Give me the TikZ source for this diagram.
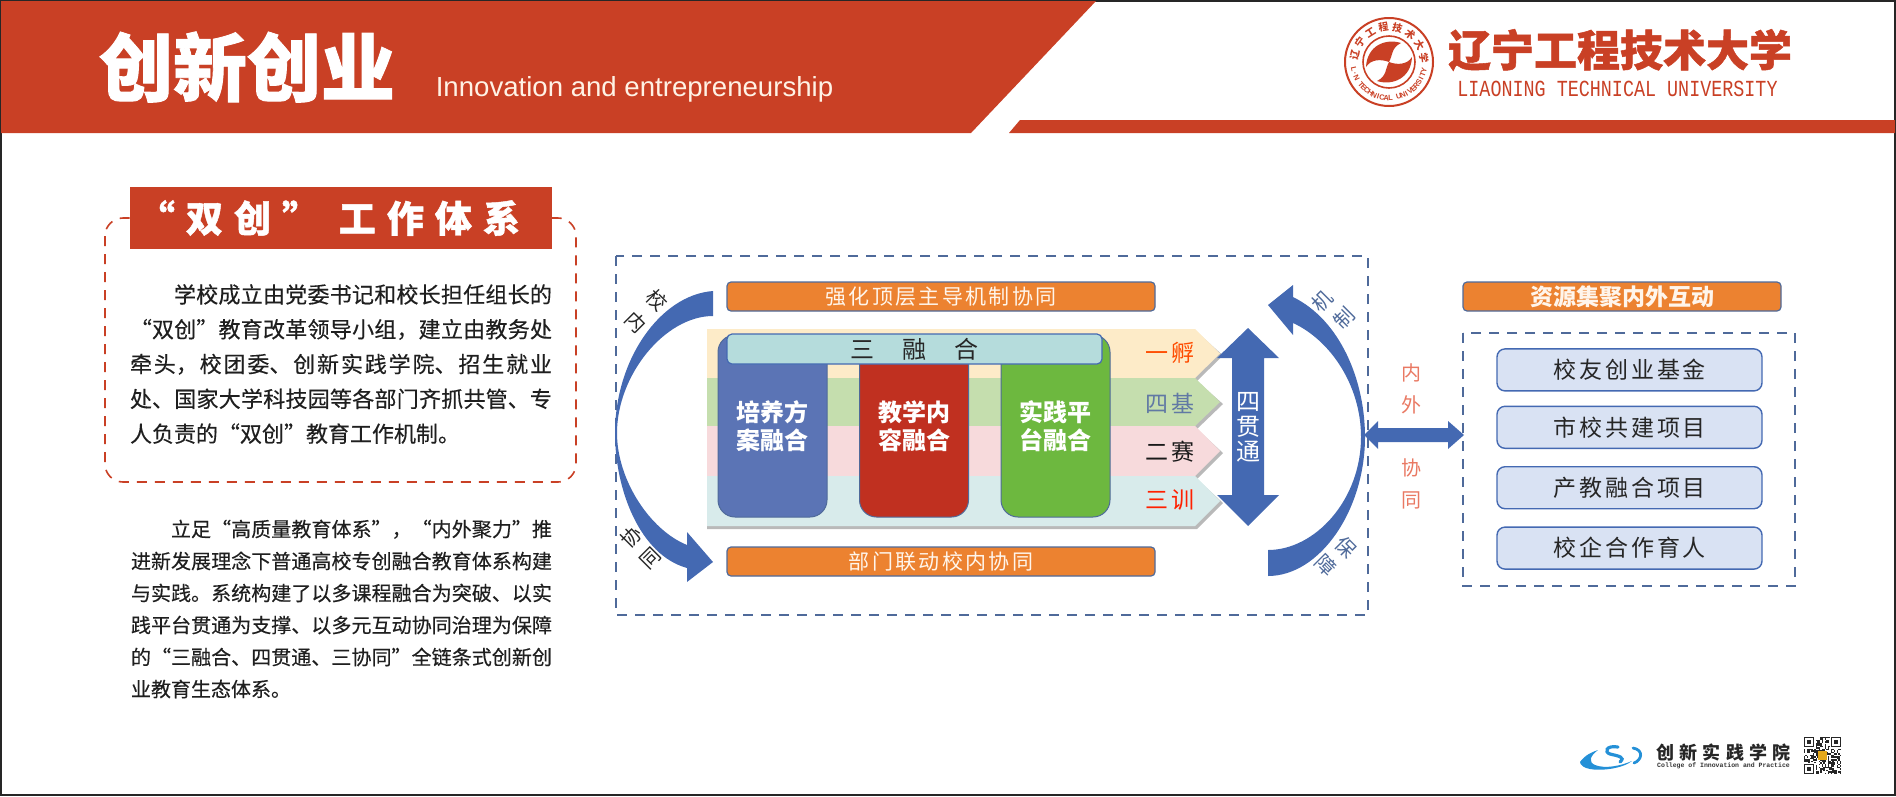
\documentclass[tikz,border=0pt]{standalone}
\usepackage{fontspec}
\setmainfont{Noto Sans CJK SC}
\newfontfamily\bodyfont[FakeBold=0.35]{Noto Sans CJK SC}
\newfontfamily\heavyfont[BoldFeatures={FakeBold=1.2}]{Noto Sans CJK SC}
\newfontfamily\latinfont{Liberation Sans}
\newfontfamily\monofont{Liberation Mono}
\usepackage{tikz}
\usetikzlibrary{matrix,positioning}
\XeTeXlinebreaklocale "zh"
\XeTeXlinebreakskip=0pt plus 3pt
\newcommand{\fsize}[1]{\fontsize{#1}{#1}\selectfont}
\newcommand{\spaced}[1]{\addfontfeature{LetterSpace=#1}}
\definecolor{hdred}{HTML}{C94025}
\definecolor{barorange}{HTML}{EC8230}
\definecolor{slate}{HTML}{4F6A9A}
\definecolor{arcblue}{HTML}{4469B2}
\definecolor{colblue}{HTML}{5B74B5}
\definecolor{colred}{HTML}{C03020}
\definecolor{colgreen}{HTML}{6DB83F}
\definecolor{barteal}{HTML}{B5DCDC}
\definecolor{respale}{HTML}{D9E2F3}

\begin{document}
\begin{tikzpicture}[x=1pt,y=-1pt,
    orangebar/.style={draw=slate,line width=1.2pt,fill=barorange,rounded corners=4pt,
      minimum width=428pt,minimum height=29pt,inner sep=0pt,text=white!92!orange},
    slatedash/.style={draw=slate,line width=1.6pt,dash pattern=on 10pt off 8pt},
    fusecol/.style={line width=1pt,rounded corners=17pt,minimum width=109pt,minimum height=182pt,
      inner sep=0pt,align=center,text=white,font=\fsize{24}\bfseries},
    bandtag/.style={font=\fsize{23}\spaced{17},inner sep=0pt},
    arcchar/.style={font=\fsize{20},inner sep=0pt},
    sidechar/.style={font=\fsize{20},text=red!50!brown!70!white,inner sep=0pt},
    resbox/.style={draw=arcblue,line width=1.4pt,fill=respale,rounded corners=8pt,
      minimum width=265pt,minimum height=42pt,inner sep=0pt,text=black!85,font=\fsize{23}\spaced{13}}
  ]
  \useasboundingbox (0,0) rectangle (1896,796);
  \draw[black!85,line width=2pt] (1,1) rectangle (1895,795);

  %header
  \fill[hdred] (1,1) -- (1096,1) -- (971,133) -- (1,133) -- cycle;
  \fill[hdred] (1020,120) -- (1895,120) -- (1895,133) -- (1009,133) -- cycle;
  \node (title) at (247,67) [text=white,inner sep=0pt,font=\heavyfont\bfseries\fsize{74}] {创新创业};
  \node (subtitle) at (634.5,89) [text=white!90!orange,inner sep=0pt,font=\latinfont\fsize{27.6}] {Innovation and entrepreneurship};

  %school badge
  \begin{scope}[shift={(1389,62)}]
    \draw[hdred,line width=2pt] (0,0) circle (44);
    \draw[hdred,line width=1.6pt] (0,0) circle (26);
    \foreach \r in {0,180}
      \fill[hdred,rotate=\r] (12,-19) .. controls (-4,-24) and (-22,-16) .. (-23,5)
        .. controls (-18,-3) and (-8,-3) .. (0,0) .. controls (4,-7) and (2,-14) .. (12,-19) -- cycle;
    \foreach \ch [count=\i from 0] in {辽,宁,工,程,技,术,大,学}
      \node[text=hdred,inner sep=0pt,font=\fsize{10}\bfseries,rotate={78-\i*23}] (bdg\i) at ({168-\i*23}:35pt) {\ch};
    \foreach \ch [count=\i from 0] in {L,.,N,{},T,E,C,H,N,I,C,A,L,{},U,N,I,V,E,R,S,I,T,Y}
      \node[text=hdred,inner sep=0pt,font=\latinfont\fsize{7.5}\bfseries,rotate={90+192+\i*6.7}] (bdt\i) at ({192+\i*6.7}:36pt) {\ch};
  \end{scope}
  \node (uniname) at (1620,50) [text=hdred,inner sep=0pt,font=\heavyfont\bfseries\fsize{43}] {辽宁工程技术大学};
  \node (unien) at (1617.5,88.5) [text=hdred,inner sep=0pt,yscale=1.25,font=\monofont\fsize{18.4}] {LIAONING TECHNICAL UNIVERSITY};

  %left column
  \draw[hdred,line width=1.6pt,dash pattern=on 10pt off 8pt,rounded corners=18pt] (105,218) rectangle (576,482);
  \node (headbox) at (341,218) [fill=hdred,minimum width=422pt,minimum height=62pt,inner sep=0pt,
    text=white,font=\heavyfont\bfseries\fsize{37}\spaced{30}] {“双创” 工作体系\hspace{24pt}\mbox{}};
  \node (para1) at (341,364) [text width=422pt,inner sep=0pt,align=justify,text=black!88,
    font=\bodyfont\fontsize{22}{34.8}\selectfont] {\hspace*{44pt}学校成立由党委书记和校长担任组长的\linebreak
    “双创”教育改革领导小组，建立由教务处\linebreak
    牵头，校团委、创新实践学院、招生就业\linebreak
    处、国家大学科技园等各部门齐抓共管、专\linebreak
    人负责的“双创”教育工作机制。\par};
  \node (para2) at (341.5,609) [text width=421pt,inner sep=0pt,align=justify,text=black!88,
    font=\bodyfont\fontsize{20}{32}\selectfont] {\hspace*{40pt}立足“高质量教育体系”，“内外聚力”推\linebreak
    进新发展理念下普通高校专创融合教育体系构建\linebreak
    与实践。系统构建了以多课程融合为突破、以实\linebreak
    践平台贯通为支撑、以多元互动协同治理为保障\linebreak
    的“三融合、四贯通、三协同”全链条式创新创\linebreak
    业教育生态体系。\par};

  %middle frame
  \draw[slatedash] (616,256) rectangle (1368,615);
  \node[orangebar,font=\fsize{21}\spaced{11}] (topbar) at (941,296.5) {强化顶层主导机制协同};
  \node[orangebar,font=\fsize{21}\spaced{11}] (botbar) at (941,561.5) {部门联动校内协同};

  %the four bands
  \foreach \ya/\yb/\colr in {329/378/FDEBC8,378/426/C5DEAE,426/476/F7DADC,476/526/D8EBEB}{
    \fill[gray,opacity=.55] (707,\ya+3) -- (1197,\ya+3) -- (1223,{(\ya+\yb)/2+2}) -- (1197,\yb+3) -- (707,\yb+3) -- cycle;
  }
  \foreach \ya/\yb/\colr in {329/378/FDEBC8,378/426/C5DEAE,426/476/F7DADC,476/526/D8EBEB}{
    \definecolor{bandcol}{HTML}{\colr}
    \fill[bandcol] (707,\ya) -- (1195,\ya) -- (1220,{(\ya+\yb)/2}) -- (1195,\yb) -- (707,\yb) -- cycle;
  }
  \node[bandtag,text=orange!60!red] (tag1) at (1170,353) {一孵};
  \node[bandtag,text=slate!90!white] (tag2) at (1170,403) {四基};
  \node[bandtag,text=black!90] (tag3) at (1170,452) {二赛};
  \node[bandtag,text=red!75!orange] (tag4) at (1170,500) {三训};

  %columns and the bar over them
  \node[fusecol,draw=slate,fill=colblue] (col1) at (772.5,426) {培养方\\[4pt]案融合};
  \node[fusecol,draw=slate,fill=colred] (col2) at (914,426) {教学内\\[4pt]容融合};
  \node[fusecol,draw=slate,fill=colgreen] (col3) at (1055.5,426) {实践平\\[4pt]台融合};
  \node (fusebar) at (914.5,349) [draw=arcblue,line width=1.2pt,fill=barteal,rounded corners=5pt,
    minimum width=375pt,minimum height=30pt,inner sep=0pt,text=black!85,font=\fsize{24}\spaced{117}] {三融合};

  %up and down arrow
  \fill[arcblue] (1248,328) -- (1279,358) -- (1264,358) -- (1264,495) -- (1279,495) -- (1248,526)
    -- (1217,495) -- (1232,495) -- (1232,358) -- (1217,358) -- cycle;
  \node (fourtext) at (1248,427) [align=center,inner sep=0pt,text=white,font=\fontsize{24}{25}\selectfont] {四\\贯\\通};

  %the two crescents
  \fill[arcblue] (713,291) .. controls (660,295) and (615,360) .. (615,433)
    .. controls (615,490) and (640,555) .. (687,568) -- (687,582) -- (713,562) -- (687,532) -- (687,545)
    .. controls (650,530) and (617,480) .. (617,433) .. controls (617,375) and (665,316) .. (713,316) -- cycle;
  \fill[arcblue] (1268,576) .. controls (1320,576) and (1365,510) .. (1365,437)
    .. controls (1365,380) and (1340,320) .. (1293,297) -- (1293,285) -- (1268,305) -- (1293,335) -- (1293,323)
    .. controls (1330,340) and (1361,385) .. (1361,437) .. controls (1361,500) and (1315,550) .. (1268,550) -- cycle;
  \node[arcchar,rotate=-45,text=black!85] (arcxiao) at (657,300) {校};
  \node[arcchar,rotate=-45,text=black!85] (arcnei) at (636,322) {内};
  \node[arcchar,rotate=45,text=black!85] (arcxie) at (631,537) {协};
  \node[arcchar,rotate=45,text=black!85] (arctong) at (651,558) {同};
  \node[arcchar,rotate=45,text=slate] (arcji) at (1322,301) {机};
  \node[arcchar,rotate=45,text=slate] (arczhi) at (1344,318) {制};
  \node[arcchar,rotate=-45,text=slate] (arcbao) at (1346,547) {保};
  \node[arcchar,rotate=-45,text=slate] (arczhang) at (1326,565) {障};

  %link to the outside
  \fill[arcblue] (1364,435) -- (1378,421) -- (1378,428) -- (1448,428) -- (1448,421) -- (1464,435)
    -- (1448,449) -- (1448,442) -- (1378,442) -- (1378,449) -- cycle;
  \node[sidechar] (sidenei) at (1411,373) {内};
  \node[sidechar] (sidewai) at (1411,405) {外};
  \node[sidechar] (sidexie) at (1411,468) {协};
  \node[sidechar] (sidetong) at (1411,500) {同};

  %right panel
  \node[orangebar,minimum width=318pt,font=\fsize{23}\bfseries] (resbar) at (1622,296.5) {资源集聚内外互动};
  \draw[slatedash] (1463,333) rectangle (1795,586);
  \matrix (res) at (1629.5,459) [matrix of nodes,nodes={resbox},inner sep=0pt]{
    校友创业基金 \\[14pt]
    市校共建项目 \\[17pt]
    产教融合项目 \\[17pt]
    校企合作育人 \\
  };

  %footer mark
  \fill[cyan!70!blue!90] (1580,762) .. controls (1585,755) and (1592,752) .. (1598,750)
    .. controls (1590,756) and (1588,762) .. (1595,765) .. controls (1605,769) and (1620,766) .. (1632,761)
    .. controls (1622,769) and (1600,771) .. (1590,769) .. controls (1584,768) and (1580,765) .. (1580,762) -- cycle;
  \draw[cyan!70!blue!90,line width=3.2pt,line cap=round] (1618,747) .. controls (1606,745) and (1604,752) .. (1610,754)
    .. controls (1618,756) and (1626,757) .. (1620,762);
  \draw[cyan!70!blue!90,line width=2.8pt,line cap=round] (1633,748) .. controls (1644,750) and (1642,760) .. (1634,763);
  \node (collegecn) at (1723.5,753) [inner sep=0pt,text=black!85,font=\fsize{18}\bfseries\spaced{28}] {创新实践学院};
  \node (collegeen) at (1723.5,766) [inner sep=0pt,text=black!80,font=\monofont\fsize{6.5}\bfseries] {College of Innovation and Practice};

  %qr code
  \pgfmathsetseed{42}
  \foreach \i in {0,...,24}
    \foreach \j in {0,...,24}{
      \pgfmathparse{rnd>0.5?1:0}
      \ifnum\pgfmathresult=1
        \fill[black!85] (1804+\i*1.48,737+\j*1.48) rectangle +(1.48,1.48);
      \fi
    }
  \foreach \qx/\qy in {1804/737,1830.7/737,1804/763.7}{
    \fill[white] (\qx-1,\qy-1) rectangle +(12.5,12.5);
    \draw[black!85,line width=1.4pt] (\qx+.7,\qy+.7) rectangle +(9,9);
    \fill[black!85] (\qx+3,\qy+3) rectangle +(4.4,4.4);
  }
  \fill[orange!60!yellow!80!gray] (1818,751) rectangle (1827,760);
\end{tikzpicture}
\end{document}
